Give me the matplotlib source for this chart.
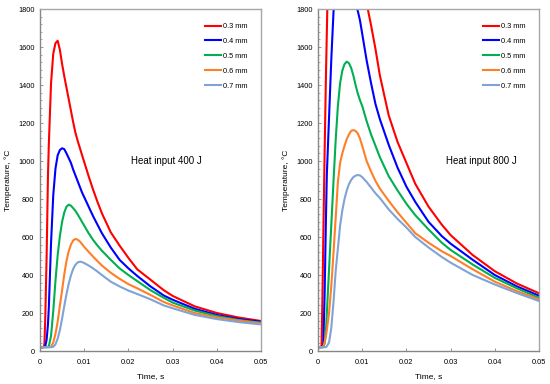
import matplotlib
matplotlib.use("Agg")
import matplotlib.pyplot as plt
from matplotlib.ticker import MultipleLocator

plt.rcParams['font.family'] = ['Liberation Sans', 'DejaVu Sans']

# time grid (s) used for every curve
time = [0, 0.0004, 0.0008, 0.001, 0.0012, 0.0015, 0.0018, 0.002, 0.0025, 0.003,
        0.0035, 0.004, 0.0045, 0.005, 0.0055, 0.006, 0.0065, 0.007, 0.0075, 0.008,
        0.0085, 0.009, 0.0095, 0.010, 0.011, 0.012, 0.013, 0.014, 0.016, 0.018,
        0.020, 0.022, 0.025, 0.028, 0.030, 0.035, 0.040, 0.045, 0.050]

labels = ['0.3 mm', '0.4 mm', '0.5 mm', '0.6 mm', '0.7 mm']
colors = ['#ff0000', '#0000ff', '#00b050', '#ff7f27', '#7fa3d6']

# heat input 400 J
t400_03 = [20, 20, 22, 35, 180, 500, 920, 1090, 1410, 1565,
           1620, 1633, 1585, 1510, 1445, 1385, 1325, 1265, 1205, 1150,
           1108, 1070, 1032, 995, 920, 850, 785, 725, 625, 555,
           490, 430, 375, 320, 290, 235, 200, 176, 158]
t400_04 = [20, 20, 20, 22, 25, 60, 140, 230, 570, 820,
           960, 1030, 1058, 1067, 1062, 1040, 1015, 990, 955, 925,
           895, 865, 835, 810, 760, 710, 665, 620, 545, 480,
           435, 395, 340, 292, 270, 222, 190, 168, 154]
t400_05 = [20, 20, 20, 20, 20, 20, 22, 25, 80, 210,
           370, 505, 605, 680, 730, 760, 770, 765, 752, 738,
           720, 700, 680, 660, 620, 585, 555, 528, 480, 435,
           400, 368, 320, 280, 255, 213, 184, 163, 149]
t400_06 = [20, 20, 20, 20, 20, 20, 20, 20, 22, 45,
           90, 155, 240, 320, 405, 475, 525, 560, 582, 590,
           586, 577, 563, 548, 522, 497, 473, 450, 412, 380,
           352, 330, 295, 258, 240, 200, 177, 160, 146]
t400_07 = [20, 20, 20, 20, 20, 20, 20, 20, 20, 22,
           35, 65, 110, 170, 238, 300, 355, 398, 432, 453,
           466, 470, 468, 463, 450, 435, 418, 400, 365, 340,
           318, 300, 272, 240, 225, 190, 168, 152, 140]

# heat input 800 J
t800_03 = [20, 20, 25, 280, 600, 1050, 1450, 1680, 2250, 2750,
           3100, 3260, 3200, 3050, 2900, 2780, 2650, 2520, 2400, 2300,
           2210, 2120, 2040, 1960, 1830, 1715, 1590, 1450, 1240, 1100,
           990, 880, 760, 665, 610, 505, 420, 355, 304]
t800_04 = [20, 20, 20, 22, 35, 300, 700, 930, 1230, 1530,
           1780, 1980, 2090, 2120, 2110, 2080, 2030, 1975, 1920, 1870,
           1830, 1790, 1740, 1670, 1530, 1410, 1300, 1220, 1085, 965,
           865, 785, 680, 605, 565, 480, 400, 340, 291]
t800_05 = [20, 20, 20, 20, 20, 40, 110, 200, 430, 660,
           890, 1110, 1290, 1410, 1475, 1510, 1523, 1515, 1490, 1450,
           1400, 1355, 1320, 1290, 1210, 1140, 1080, 1020, 920, 845,
           775, 715, 640, 570, 532, 455, 385, 330, 280]
t800_06 = [20, 20, 20, 20, 25, 45, 80, 110, 200, 340,
           514, 700, 890, 990, 1040, 1080, 1115, 1140, 1158, 1163,
           1158, 1145, 1118, 1080, 1000, 945, 895, 855, 790, 730,
           675, 620, 570, 525, 500, 430, 365, 315, 272]
t800_07 = [20, 20, 20, 20, 20, 20, 20, 25, 45, 120,
           255, 420, 540, 660, 740, 800, 845, 878, 900, 915,
           923, 926, 924, 915, 890, 860, 830, 805, 745, 695,
           650, 600, 545, 495, 465, 400, 350, 305, 263]

panels = [
    ([t400_03, t400_04, t400_05, t400_06, t400_07], 'Heat input 400 J', 0.57),
    ([t800_03, t800_04, t800_05, t800_06, t800_07], 'Heat input 800 J', 0.74),
]
xticks = [0, 0.01, 0.02, 0.03, 0.04, 0.05]
xticklabels = ['0', '0.01', '0.02', '0.03', '0.04', '0.05']

fig = plt.figure(figsize=(5.5, 3.84), dpi=100)
lefts = [40 / 550, 318 / 550]

for left, (series, note, note_x) in zip(lefts, panels):
    ax = fig.add_axes([left, 33 / 384, 221 / 550, 342 / 384])
    for vals, lab, col in zip(series, labels, colors):
        ax.plot(time, vals, color=col, lw=1.5, label=lab)
    ax.set_xlim(0, 0.05)
    ax.set_ylim(0, 1800)
    ax.set_xticks(xticks)
    ax.set_xticklabels(xticklabels)
    ax.yaxis.set_major_locator(MultipleLocator(200))
    ax.yaxis.set_minor_locator(MultipleLocator(40))
    ax.tick_params(axis='both', which='major', direction='in', length=2.5,
                   width=0.6, color='#868686', labelsize=5.3)
    ax.tick_params(axis='x', which='major', pad=6)
    ax.tick_params(axis='y', which='major', pad=4)
    ax.tick_params(axis='y', which='minor', direction='in', length=1.5,
                   width=0.5, color='#868686')
    for side in ['left', 'bottom']:
        ax.spines[side].set_color('#868686')
        ax.spines[side].set_linewidth(1.0)
    for side in ['top', 'right']:
        ax.spines[side].set_color('#a6a6a6')
        ax.spines[side].set_linewidth(1.0)
    ax.set_xlabel('Time, s', fontsize=6, labelpad=5)
    ax.set_ylabel('Temperature, °C', fontsize=6, labelpad=4)
    ax.text(note_x, 0.555, note, transform=ax.transAxes, fontsize=7,
            ha='center', va='center')
    ax.legend(loc='upper right', frameon=False, fontsize=5.3,
              handlelength=2.2, handletextpad=0.2, labelspacing=1.05,
              borderaxespad=1.5)

plt.savefig('out.png', dpi=100)
